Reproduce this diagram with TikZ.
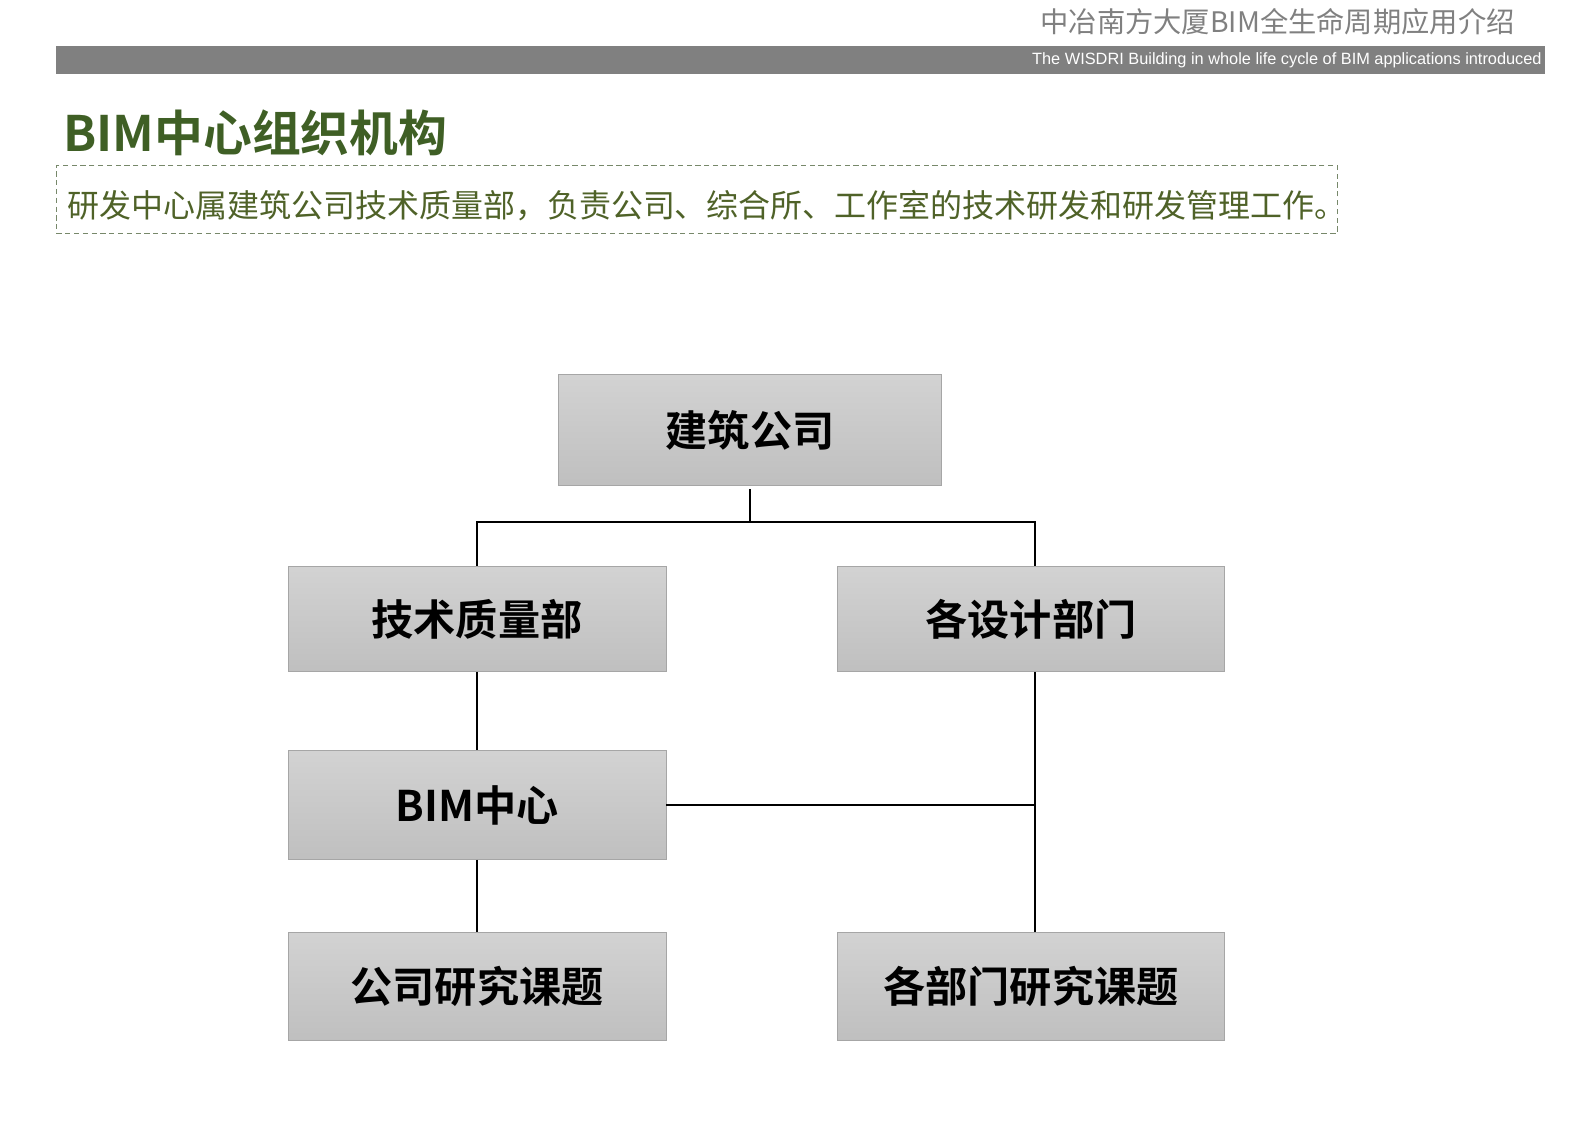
\documentclass[tikz,border=0pt]{standalone}
\usepackage{fontspec}
\setmainfont{Liberation Sans}
\newfontfamily\cjk{Noto Sans CJK SC}[BoldFont={Noto Sans CJK SC Bold}]
\definecolor{TitleGreen}{HTML}{3F5F25}
\definecolor{TextGreen}{HTML}{4F6228}
\definecolor{DashGreen}{HTML}{77886A}
\definecolor{HeadGray}{HTML}{808080}
\usetikzlibrary{positioning, calc}

\begin{document}
\begin{tikzpicture}[x=0.02cm, y=-0.02cm,
  orgbox/.style={draw=gray!70, top color=gray!35, bottom color=gray!50, inner sep=0pt,
    minimum height=2.14cm, font=\cjk\bfseries\fontsize{24}{28}\selectfont},
  conn/.style={black, line width=0.6pt},
]
\useasboundingbox (0,0) rectangle (1587,1122);
% header
\fill[HeadGray] (56,46) rectangle (1545,74);
\node[anchor=east, inner sep=0pt, text=HeadGray, font=\cjk\fontsize{16.1}{18}\selectfont] (head) at (1515,22) {中冶南方大厦BIM全生命周期应用介绍};
\node[anchor=east, inner sep=0pt, text=white, font=\fontsize{9.3}{11}\selectfont] (sub) at (1542,60) {The WISDRI Building in whole life cycle of BIM applications introduced};
% title and note
\node[anchor=west, inner sep=0pt, text=TitleGreen, font=\cjk\bfseries\fontsize{27.8}{30}\selectfont] (title) at (63,133) {BIM中心组织机构};
\node[anchor=north west, draw=DashGreen, dash pattern=on 3pt off 2pt, line width=0.5pt,
  minimum width=25.62cm, minimum height=1.36cm, inner xsep=0.22cm, inner ysep=0.1cm,
  text height=0.8cm, text depth=0.08cm, text width=25.18cm, align=left,
  text=TextGreen, font=\cjk\fontsize{18.2}{20}\selectfont] (note) at (56,165) {研发中心属建筑公司技术质量部，负责公司、综合所、工作室的技术研发和研发管理工作。};

% org chart
\node[orgbox, minimum width=7.66cm, minimum height=2.22cm] (corp) at (750,430) {建筑公司};
\node[orgbox, minimum width=7.56cm, minimum height=2.1cm] (tech) at (477,619) {技术质量部};
\node[orgbox, minimum width=7.74cm, minimum height=2.1cm] (design) at (1031,619) {各设计部门};
\node[orgbox, minimum width=7.56cm, minimum height=2.18cm] (bim) at (477,805) {BIM中心};
\node[orgbox, minimum width=7.56cm, minimum height=2.16cm] (comtopic) at (477,986) {公司研究课题};
\node[orgbox, minimum width=7.74cm, minimum height=2.16cm] (deptopic) at (1031,986) {各部门研究课题};

\coordinate (fork) at (750,522);
\coordinate (dtop) at ([xshift=0.08cm]design.north);
\coordinate (dbot) at ([xshift=0.08cm]design.south);
\coordinate (ttop) at ([xshift=0.08cm]deptopic.north);
\draw[conn, shorten <=2pt] (corp.south) -- (fork);
\draw[conn] (fork) -| (tech.north);
\draw[conn] (fork) -| (dtop);
\draw[conn] (tech) -- (bim);
\draw[conn] (bim) -- (comtopic);
\draw[conn] (dbot) -- (ttop);
\draw[conn] (bim.east) -- (bim.east -| dbot);
\end{tikzpicture}
\end{document}
